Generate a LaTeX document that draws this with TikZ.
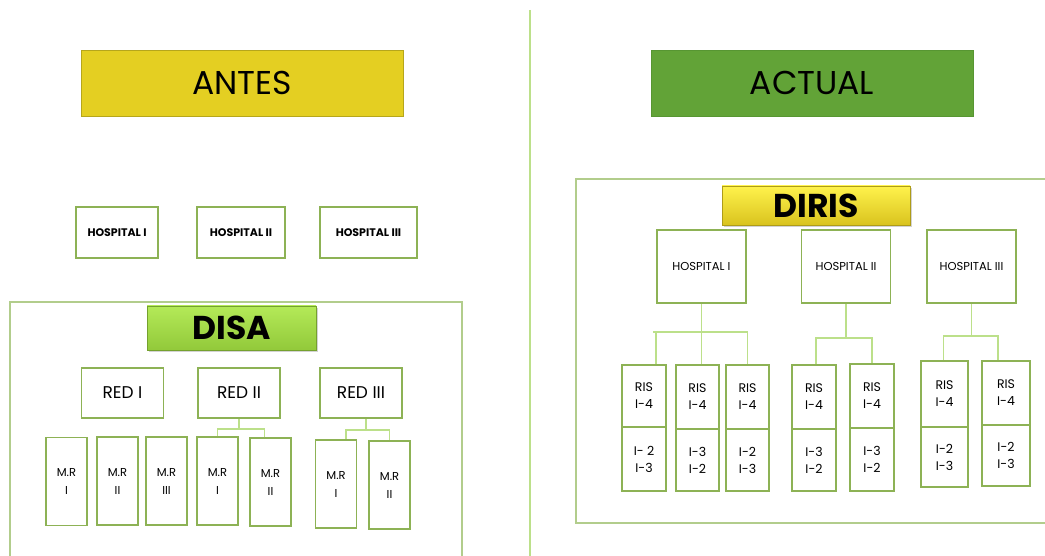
\documentclass[tikz,border=0pt]{standalone}
\usepackage{fontspec}
\setmainfont{Poppins}
\usetikzlibrary{shadows}

\definecolor{borde}{HTML}{8DB255}
\definecolor{marco}{HTML}{B2CD8C}
\definecolor{enlace}{HTML}{BCE08A}
\definecolor{amarillo}{HTML}{E4CF22}
\definecolor{verdeact}{HTML}{62A337}
\definecolor{bordeact}{HTML}{579632}
\definecolor{disaalto}{HTML}{B4EA58}
\definecolor{disabajo}{HTML}{92C93A}
\definecolor{dirisalto}{HTML}{FFF24C}
\definecolor{dirisbajo}{HTML}{D9C31E}

\tikzset{
  caja/.style={draw=borde, line width=1.9pt, fill=white, inner sep=0pt, align=center},
  enlace/.style={draw=enlace, line width=1.5pt},
  titulo/.style={inner sep=0pt, font=\fontsize{33}{36}\selectfont},
  etiqueta/.style={inner sep=0pt, font=\fontsize{33}{36}\selectfont\bfseries,
    drop shadow={shadow xshift=1.5pt, shadow yshift=-2pt, opacity=.35}},
}

\begin{document}
\begin{tikzpicture}[x=1pt,y=-1pt]
\useasboundingbox (0,0) rectangle (1045,556);

% division
\draw[enlace, line width=1.2pt] (530,10) -- (530,556);

% titulos
\node[titulo, fill=amarillo, draw=amarillo!80!black, minimum width=322pt, minimum height=66pt] (antes) at (242,83) {ANTES};
\node[titulo, fill=verdeact, draw=bordeact, minimum width=322pt, minimum height=66pt] (actual) at (812,83) {ACTUAL};

% ---- antes ----
\begin{scope}[every node/.append style={font=\fontsize{11}{13}\selectfont\bfseries, minimum height=51pt}]
\node[caja, minimum width=82pt] (hA1) at (117,232.5) {HOSPITAL I};
\node[caja, minimum width=88pt] (hA2) at (241,232.5) {HOSPITAL II};
\node[caja, minimum width=97pt] (hA3) at (368.5,232.5) {HOSPITAL III};
\end{scope}

\draw[marco, line width=1.8pt] (10,560) -- (10,302) -- (462,302) -- (462,560);
\node[etiqueta, top color=disaalto, bottom color=disabajo, draw=disabajo!80!black, minimum width=169pt, minimum height=44pt] (disa) at (231.5,328) {DISA};

\begin{scope}[every node/.append style={font=\fontsize{17}{20}\selectfont, minimum width=82pt, minimum height=50pt}]
\node[caja] (red1) at (122.5,393) {RED I};
\node[caja] (red2) at (239,393) {RED II};
\node[caja] (red3) at (361,393) {RED III};
\end{scope}

\foreach \n/\x/\y/\t in {1/66.5/481.5/I, 2/117.5/481/II, 3/166.5/481/III, 4/217.5/481/I,
                         5/270.5/482/II, 6/336/484/I, 7/389.5/485/II}
  \node[caja, minimum width=41pt, minimum height=88pt, font=\fontsize{11.5}{18}\selectfont] (mr\n) at (\x,\y) {M.R\\\t};

\draw[enlace] (red2.south) -- ++(0,10) coordinate (bR2);
\draw[enlace] (mr4.north) |- (bR2) -| ([xshift=-6pt]mr5.north);
\draw[enlace] ([xshift=5pt]red3.south) -- ++(0,11) coordinate (bR3);
\draw[enlace] ([xshift=10pt]mr6.north) |- (bR3) -| (mr7.north);

% ---- actual ----
\draw[marco, line width=1.8pt] (1050,179) -- (576,179) -- (576,523) -- (1050,523);
\node[etiqueta, top color=dirisalto, bottom color=dirisbajo, draw=dirisbajo!80!black, minimum width=188pt, minimum height=39pt] (diris) at (816,205.5) {DIRIS};

\begin{scope}[every node/.append style={font=\fontsize{11.5}{13}\selectfont, minimum width=89pt, minimum height=73pt}]
\node[caja] (hB1) at (701.5,266.5) {HOSPITAL I};
\node[caja] (hB2) at (846,266.5) {HOSPITAL II};
\node[caja] (hB3) at (971.5,266.5) {HOSPITAL III};
\end{scope}

\foreach \i/\xa/\xb/\ya/\yd/\yb/\abajo in {1/622/666/365/427/491/{I- 2\\I-3}, 2/676/719/365/429/491/{I-3\\I-2},
    3/726/769/365/429/491/{I-2\\I-3}, 4/792/836/365/429/491/{I-3\\I-2}, 5/850/894/364/428/491/{I-3\\I-2},
    6/921/968/361/427/487/{I-2\\I-3}, 7/982/1030/361/425/486/{I-2\\I-3}}
{
  \node[caja, font=\fontsize{12.5}{17}\selectfont, minimum width={\xb pt-\xa pt}, minimum height={\yd pt-\ya pt}]
    (risA\i) at ({(\xa+\xb)/2},{(\ya+\yd)/2}) {RIS\\I-4};
  \node[caja, font=\fontsize{12.5}{17}\selectfont, minimum width={\xb pt-\xa pt}, minimum height={\yb pt-\yd pt}]
    (risB\i) at ({(\xa+\xb)/2},{(\yd+\yb)/2}) {\abajo};
}

\draw[enlace] (hB1.south) -- (hB1.south |- risA2.north);
\coordinate (bH1) at (653,332);
\draw[enlace] (bH1) -| (risA3.north);
\draw[enlace] ([xshift=12pt]risA1.north) -- ([xshift=12pt]risA1.north |- bH1);
\draw[enlace] (hB2.south) -- ++(0,34) coordinate (bH2);
\draw[enlace] ([xshift=2pt]risA4.north) |- (bH2) -| (risA5.north);
\draw[enlace] (hB3.south) -- ++(0,32) coordinate (bH3);
\draw[enlace] ([xshift=-1pt]risA6.north) |- (bH3) -| ([xshift=-8pt]risA7.north);

\end{tikzpicture}
\end{document}
